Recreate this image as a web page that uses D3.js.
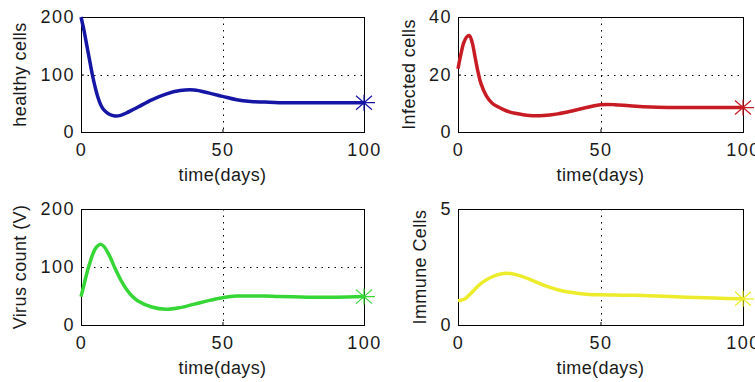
<!DOCTYPE html>
<html>
<head>
<meta charset="utf-8">
<script src="https://cdn.jsdelivr.net/npm/d3@7"></script>
<style>
  body { margin: 0; background: #fff; }
  svg text { font-family: "Liberation Sans", Arial, sans-serif; fill: #1a1a1a; }
</style>
</head>
<body>
<div id="chart"></div>
<script>
// time points (days) the curves were read at
var days = [0, 1, 2, 3, 4, 5, 6, 7, 8, 10, 12, 14, 16, 18, 20, 25, 30, 35, 40, 45, 50, 55, 60, 65, 70, 80, 90, 100];

var healthy = [200, 178, 152, 126, 100, 78, 60, 47, 39, 31, 28, 29, 33, 38, 43, 56, 66, 72, 73, 68, 62, 56, 53, 52, 51, 51, 51, 51];
var infected = [22, 27, 31, 33, 33.5, 31, 26, 21, 17, 12.5, 10, 8.8, 7.8, 7, 6.5, 5.7, 5.7, 6.3, 7.3, 8.5, 9.5, 9.5, 9.1, 8.8, 8.6, 8.5, 8.5, 8.5];
var virus = [49, 68, 88, 105, 120, 131, 137, 139, 136, 120, 98, 78, 62, 50, 42, 31, 27, 30, 36, 42, 47, 50, 50, 50, 49, 48, 48, 49];
var immune = [1.05, 1.07, 1.1, 1.18, 1.3, 1.42, 1.55, 1.67, 1.78, 1.95, 2.08, 2.17, 2.22, 2.22, 2.18, 1.98, 1.72, 1.52, 1.4, 1.33, 1.3, 1.29, 1.28, 1.27, 1.25, 1.2, 1.16, 1.13];

var xTicks = [0, 50, 100];
var xGrid = [50];

var panels = [
  { label: "healthy cells", values: healthy, yTicks: [0, 100, 200], yGrid: [100], color: "#1616a6" },
  { label: "Infected cells", values: infected, yTicks: [0, 20, 40], yGrid: [20], color: "#c81c24" },
  { label: "Virus count (V)", values: virus, yTicks: [0, 100, 200], yGrid: [100], color: "#36d636" },
  { label: "Immune Cells", values: immune, yTicks: [0, 5], yGrid: [], color: "#ecec2c" }
];

var W = 755, H = 382;
var cols = [[81, 364], [458, 743]];
var rows = [[17, 132], [209, 325]];

var svg = d3.select("#chart")
  .append("svg")
  .attr("width", W)
  .attr("height", H);

panels.forEach(function(p, i) {
  var cx = cols[i % 2], ry = rows[Math.floor(i / 2)];

  var x = d3.scaleLinear().domain([0, 100]).range(cx);
  var y = d3.scaleLinear()
    .domain([p.yTicks[0], p.yTicks[p.yTicks.length - 1]])
    .range([ry[1], ry[0]]);

  var g = svg.append("g");

  // dotted grid
  g.selectAll("line.xgrid").data(xGrid).enter()
    .append("line")
    .attr("x1", function(d) { return Math.round(x(d)) + 0.5; })
    .attr("x2", function(d) { return Math.round(x(d)) + 0.5; })
    .attr("y1", ry[0]).attr("y2", ry[1])
    .style("stroke", "#000")
    .style("stroke-dasharray", "1.5,5");
  g.selectAll("line.ygrid").data(p.yGrid).enter()
    .append("line")
    .attr("y1", function(d) { return Math.round(y(d)) + 0.5; })
    .attr("y2", function(d) { return Math.round(y(d)) + 0.5; })
    .attr("x1", cx[0]).attr("x2", cx[1])
    .style("stroke", "#000")
    .style("stroke-dasharray", "1.5,5");

  // axes with inward ticks
  var xAxis = g.append("g")
    .attr("transform", "translate(0," + ry[1] + ")")
    .call(d3.axisBottom(x).tickValues(xTicks).tickSizeInner(-3).tickSizeOuter(0).tickPadding(11));
  var yAxis = g.append("g")
    .attr("transform", "translate(" + cx[0] + ",0)")
    .call(d3.axisLeft(y).tickValues(p.yTicks).tickFormat(d3.format("d"))
      .tickSizeInner(-3).tickSizeOuter(0).tickPadding(6));
  [xAxis, yAxis].forEach(function(a) {
    a.select(".domain").remove();
    a.selectAll("line").style("stroke", "#000");
    a.selectAll("text")
      .style("font-size", "18px")
      .style("letter-spacing", "1.5px")
      .style("fill", "#1a1a1a");
  });

  // box
  g.append("rect")
    .attr("x", cx[0] + 0.5).attr("y", ry[0] + 0.5)
    .attr("width", cx[1] - cx[0]).attr("height", ry[1] - ry[0])
    .style("fill", "none")
    .style("stroke", "#000");

  // curve
  var line = d3.line()
    .x(function(d, j) { return x(days[j]); })
    .y(function(d) { return y(d); })
    .curve(d3.curveCatmullRom);
  g.append("path")
    .datum(p.values)
    .attr("d", line)
    .style("fill", "none")
    .style("stroke", p.color)
    .style("stroke-width", 3.5)
    .style("stroke-linejoin", "round");

  // end marker (*)
  var last = p.values.length - 1;
  g.append("path")
    .attr("transform", "translate(" + x(days[last]) + "," + y(p.values[last]) + ")")
    .attr("d", "M-11,0H11M-8,-7L8,7M-8,7L8,-7M0,-8V8")
    .style("fill", "none")
    .style("stroke", p.color)
    .style("stroke-width", 1.2);

  // labels
  var tb = yAxis.node().getBBox();
  g.append("text")
    .attr("transform", "translate(" + (cx[0] + tb.x - 14) + "," + ((ry[0] + ry[1]) / 2) + ") rotate(-90)")
    .attr("text-anchor", "middle")
    .style("font-size", "18px")
    .style("letter-spacing", "0.4px")
    .text(p.label);
  g.append("text")
    .attr("x", (cx[0] + cx[1]) / 2)
    .attr("y", ry[1] + 49)
    .attr("text-anchor", "middle")
    .style("font-size", "18px")
    .style("letter-spacing", "0.4px")
    .text("time(days)");
});
</script>
</body>
</html>
